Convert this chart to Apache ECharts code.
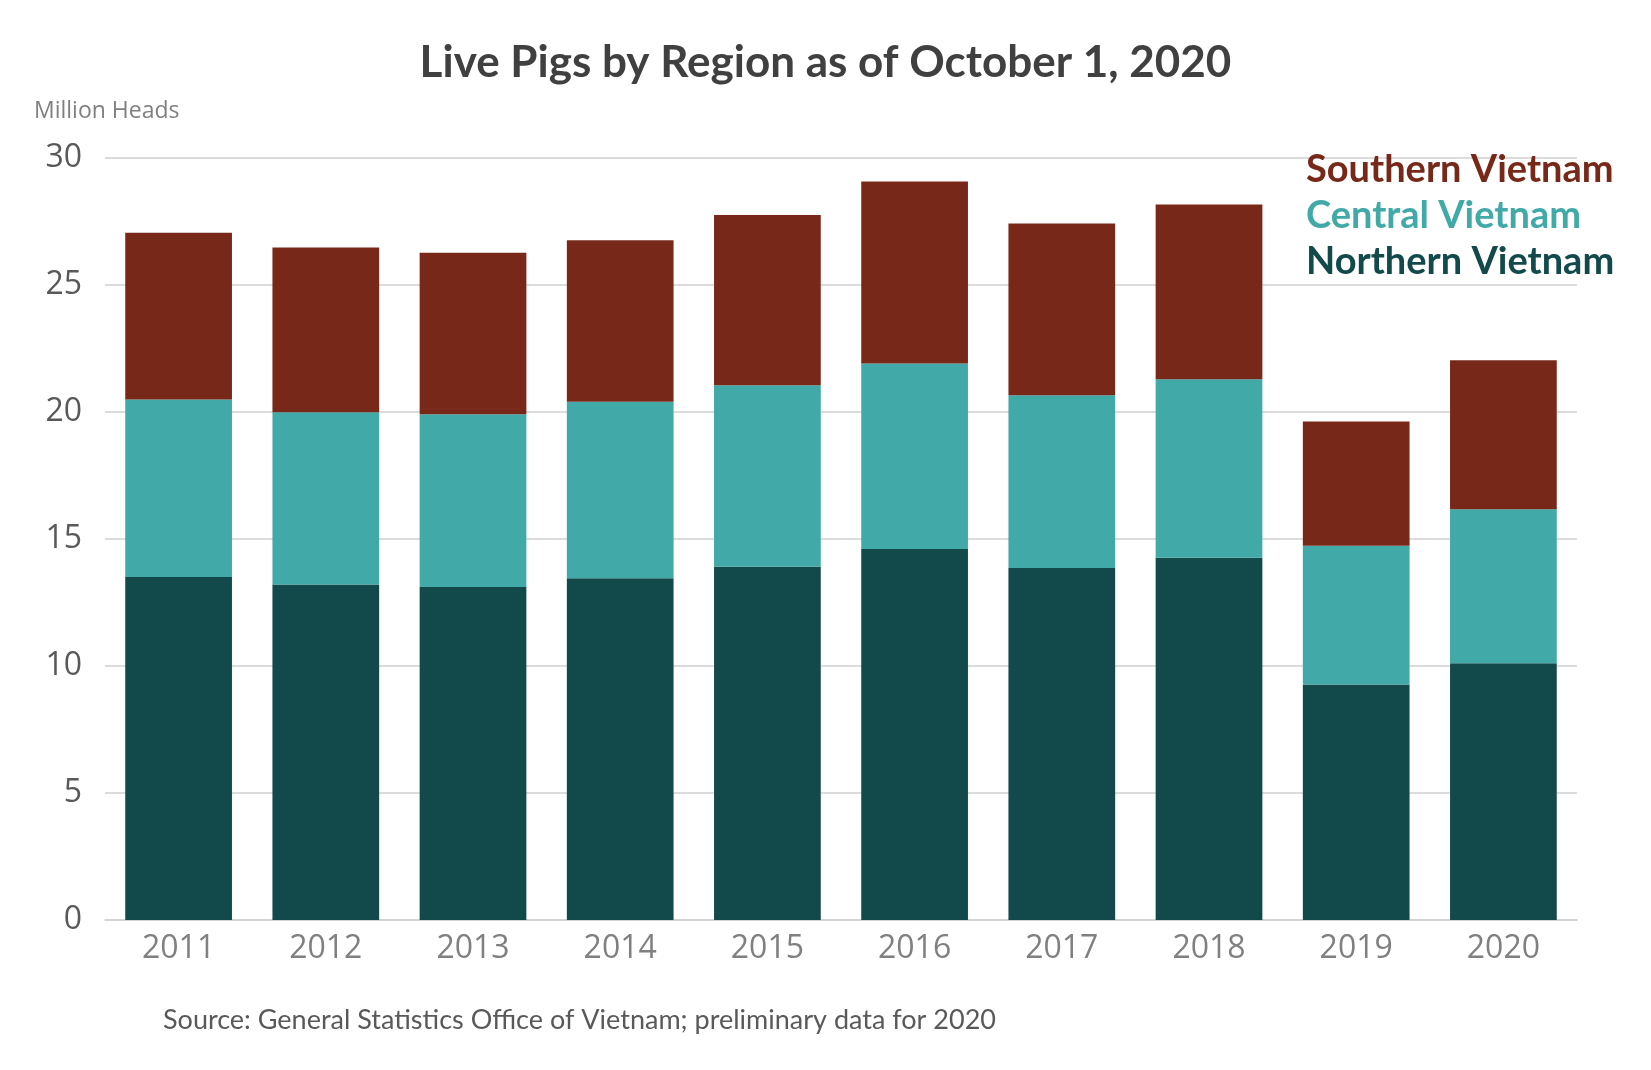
<!DOCTYPE html>
<html>
<head>
<meta charset="utf-8">
<title>Live Pigs by Region</title>
<script src="https://cdn.jsdelivr.net/npm/echarts@6/dist/echarts.min.js"></script>
<style>
  html, body { margin: 0; padding: 0; background: #fff; }
  #chart { width: 1651px; height: 1070px; }
</style>
</head>
<body>
<div id="chart"></div>
<script>
// years on the x axis
var years = ['2011', '2012', '2013', '2014', '2015', '2016', '2017', '2018', '2019', '2020'];

// million heads per region
var northern = [13.50, 13.20, 13.10, 13.45, 13.90, 14.60, 13.85, 14.25, 9.27, 10.10];
var central  = [6.98, 6.78, 6.80, 6.94, 7.14, 7.30, 6.80, 7.03, 5.45, 6.06];
var southern = [6.56, 6.48, 6.35, 6.35, 6.70, 7.16, 6.75, 6.87, 4.89, 5.86];

var yTicks = [0, 5, 10, 15, 20, 25, 30];

var colNorth = '#124a4b';
var colCentral = '#41a9a7';
var colSouth = '#782819';

var myChart = echarts.init(document.getElementById('chart'));

var option = {
    backgroundColor: '#ffffff',
    animation: false,
    title: {
        text: 'Live Pigs by Region as of October 1, 2020',
        left: 'center',
        top: 36,
        textStyle: {
            fontFamily: 'Lato',
            fontWeight: 'bold',
            fontSize: 44,
            color: '#404040'
        }
    },
    legend: {
        orient: 'vertical',
        left: 1296,
        top: 146,
        icon: 'none',
        itemWidth: 0,
        itemGap: 8,
        selectedMode: false,
        textStyle: { fontFamily: 'Lato', fontWeight: 'bold', fontSize: 38 },
        data: [
            { name: 'Southern Vietnam', textStyle: { color: colSouth } },
            { name: 'Central Vietnam', textStyle: { color: colCentral } },
            { name: 'Northern Vietnam', textStyle: { color: colNorth } }
        ]
    },
    graphic: [
        {
            type: 'text',
            left: 34,
            top: 100,
            style: {
                text: 'Million Heads',
                font: '23px "Open Sans"',
                fill: '#808080'
            }
        },
        {
            type: 'text',
            left: 163,
            top: 1007,
            style: {
                text: 'Source: General Statistics Office of Vietnam; preliminary data for 2020',
                font: '27px Lato',
                fill: '#595959'
            }
        }
    ],
    grid: {
        left: 105,
        right: 74,
        top: 157.5,
        bottom: 150,
        containLabel: false
    },
    xAxis: {
        type: 'category',
        data: years,
        axisLine: { lineStyle: { color: '#d0d0d0', width: 1.5 } },
        axisTick: { show: false },
        axisLabel: {
            margin: 13,
            fontFamily: 'Open Sans',
            fontSize: 32,
            color: '#808080'
        }
    },
    yAxis: {
        type: 'value',
        min: yTicks[0],
        max: yTicks[yTicks.length - 1],
        interval: 5,
        axisLine: { show: false },
        axisTick: { show: false },
        splitLine: { lineStyle: { color: '#d0d0d0', width: 1.5 } },
        axisLabel: {
            margin: 23,
            fontFamily: 'Open Sans',
            fontSize: 32,
            color: '#595959'
        }
    },
    series: [
        {
            name: 'Northern Vietnam',
            type: 'bar',
            stack: 'pigs',
            barWidth: '72.5%',
            itemStyle: { color: colNorth },
            data: northern
        },
        {
            name: 'Central Vietnam',
            type: 'bar',
            stack: 'pigs',
            itemStyle: { color: colCentral },
            data: central
        },
        {
            name: 'Southern Vietnam',
            type: 'bar',
            stack: 'pigs',
            itemStyle: { color: colSouth },
            data: southern
        }
    ]
};

myChart.setOption(option);
</script>
</body>
</html>
